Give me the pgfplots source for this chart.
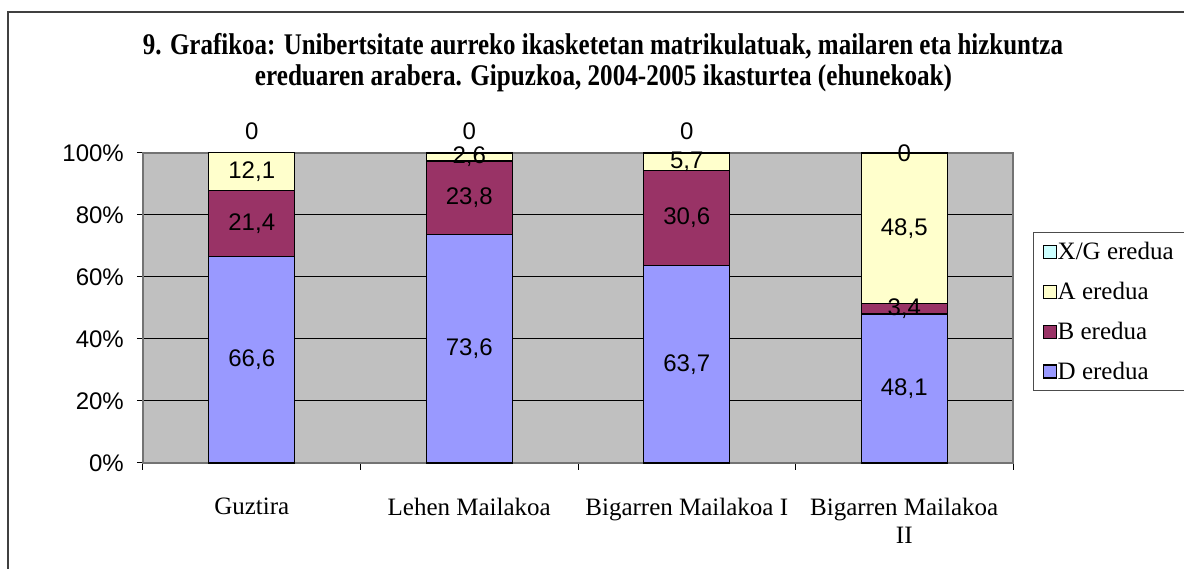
\documentclass[border=0pt]{standalone}
\usepackage{pgfplots}
\pgfplotsset{compat=1.18}
\usepackage{pgfplotstable}
\usepackage{graphicx}
\usepackage{fontspec}
\setmainfont{Liberation Serif}
\setsansfont{Liberation Sans}
\definecolor{cD}{HTML}{9999FF}
\definecolor{cB}{HTML}{993366}
\definecolor{cA}{HTML}{FFFFCC}
\definecolor{cX}{HTML}{CCFFFF}
\definecolor{bgGray}{HTML}{C0C0C0}
% values (percent) and label text
\pgfplotstableread{
x D Dl B Bl A Al X Xl
0 66.6 66,6 21.4 21,4 12.1 12,1 0 0
1 73.6 73,6 23.8 23,8 2.6 2,6 0 0
2 63.7 63,7 30.6 30,6 5.7 5,7 0 0
3 48.1 48,1 3.4 3,4 48.5 48,5 0 0
}\data
% label positions (segment centres; X/G labels as placed in the reference)
\pgfplotstableread{
x Dc Bc Ac Xc
0 33.3 77.3 94.05 107.1
1 36.8 85.5 98.7 107.1
2 31.85 79.0 97.15 107.1
3 24.05 49.8 75.75 100
}\pos
\pgfplotsset{
  common/.style={
    at={(143pt,106pt)}, anchor=south west,
    scale only axis, width=870pt, height=310pt,
    xmin=-0.5, xmax=3.5, ymin=0, ymax=100, clip=false},
  lab/.style={draw=none, mark=none, nodes near coords, point meta=explicit symbolic,
    nodes near coords style={font=\fontsize{24}{24}\sffamily, anchor=center, text=black, inner sep=0pt}},
}
\begin{document}
\begin{tikzpicture}[x=1pt,y=1pt]
\useasboundingbox (0,0) rectangle (1184,569);
\draw[draw=black!75, line width=2pt] (8,-5) -- (8,557) -- (1190,557);
\node[anchor=base, inner sep=0pt] at (603,514) {\resizebox{920pt}{\height}{\fontsize{30}{32}\selectfont\bfseries 9. Grafikoa: Unibertsitate aurreko ikasketetan matrikulatuak, mailaren eta hizkuntza}};
\node[anchor=base, inner sep=0pt] at (603.5,483) {\resizebox{697pt}{\height}{\fontsize{30}{32}\selectfont\bfseries ereduaren arabera. Gipuzkoa, 2004-2005 ikasturtea (ehunekoak)}};
\begin{axis}[
  common,
  ybar stacked, bar width=86pt,
  axis background/.style={fill=bgGray},
  axis line style={draw=black!55, line width=1.5pt},
  tick pos=left, tick align=outside,
  xtick={0,1,2,3},
  xticklabels={Guztira, Lehen Mailakoa, Bigarren Mailakoa I, Bigarren Mailakoa\\II},
  major x tick style={draw=none},
  minor xtick={-0.5,0.5,1.5,2.5,3.5},
  minor x tick style={draw=black, line width=1pt},
  minor tick length=7pt,
  xticklabel style={font=\fontsize{25}{28}\selectfont, align=center, anchor=north, inner sep=0pt, yshift=-29pt},
  ytick={0,20,40,60,80,100},
  yticklabels={0\%,20\%,40\%,60\%,80\%,100\%},
  major y tick style={draw=black, line width=1pt},
  major tick length=6pt,
  yticklabel style={font=\fontsize{24}{24}\sffamily, anchor=east, inner sep=0pt, xshift=-13pt},
  ymajorgrids, major grid style={draw=black, line width=1pt},
  legend style={at={(1.023,0.745)}, anchor=north west, draw=black!70, line width=1pt,
    font=\fontsize{25}{25}\selectfont, row sep=19pt, inner xsep=9pt, inner ysep=9pt,
    nodes={inner sep=1pt}},
  legend cell align=left,
  reverse legend,
  legend image code/.code={\draw[#1, draw=black, line width=1.2pt] (0pt,-6.5pt) rectangle (13pt,6.5pt);},
]
\addplot[fill=cD, draw=black, line width=1.3pt] table[x=x, y=D] {\data};
\addlegendentry{D eredua}
\addplot[fill=cB, draw=black, line width=1.3pt] table[x=x, y=B] {\data};
\addlegendentry{B eredua}
\addplot[fill=cA, draw=black, line width=1.3pt] table[x=x, y=A] {\data};
\addlegendentry{A eredua}
\addplot[fill=cX, draw=black, line width=1.3pt] table[x=x, y=X] {\data};
\addlegendentry{X/G eredua\hspace*{20pt}}
\end{axis}
\begin{axis}[common, hide axis]
\pgfplotstablecreatecol[copy column from table={\data}{Dl}]{Dl}{\pos}
\addplot[lab] table[x=x, y=Dc, meta=Dl] {\pos};
\pgfplotstablecreatecol[copy column from table={\data}{Bl}]{Bl}{\pos}
\addplot[lab] table[x=x, y=Bc, meta=Bl] {\pos};
\pgfplotstablecreatecol[copy column from table={\data}{Al}]{Al}{\pos}
\addplot[lab] table[x=x, y=Ac, meta=Al] {\pos};
\pgfplotstablecreatecol[copy column from table={\data}{Xl}]{Xl}{\pos}
\addplot[lab] table[x=x, y=Xc, meta=Xl] {\pos};
\end{axis}
\end{tikzpicture}
\end{document}
